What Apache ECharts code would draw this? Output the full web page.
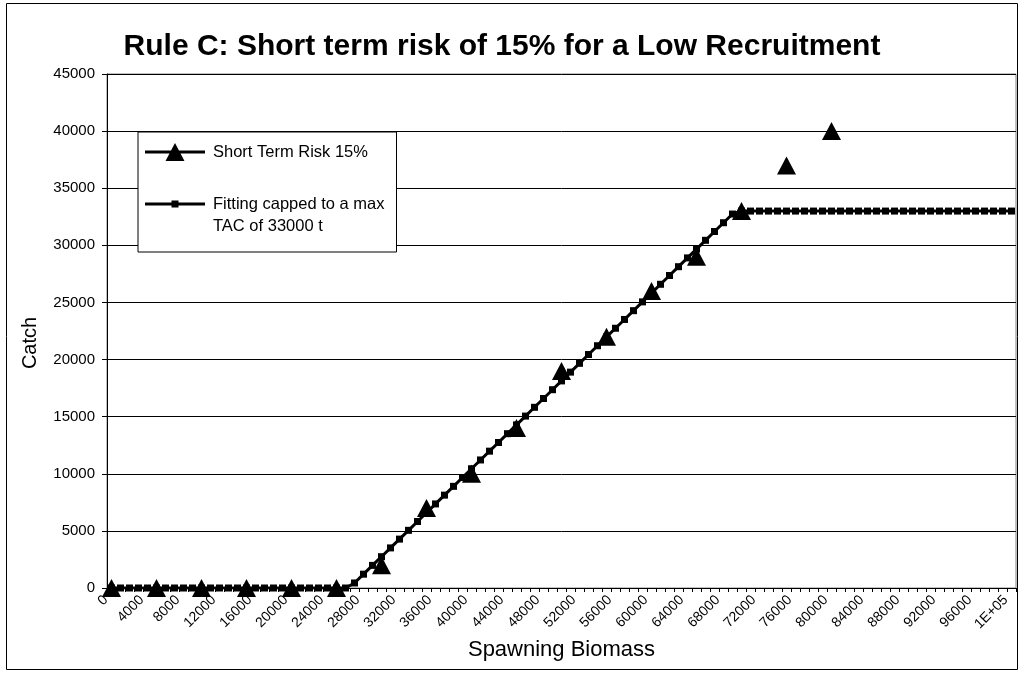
<!DOCTYPE html>
<html><head><meta charset="utf-8">
<script src="https://cdn.jsdelivr.net/npm/echarts@6/dist/echarts.min.js"></script>
<style>html,body{margin:0;padding:0;background:#fff}#c{width:1020px;height:673px}</style>
</head><body><div id="c"></div>
<script>
const categories = ['0','1000','2000','3000','4000','5000','6000','7000','8000','9000',
'10000','11000','12000','13000','14000','15000','16000','17000','18000','19000',
'20000','21000','22000','23000','24000','25000','26000','27000','28000','29000',
'30000','31000','32000','33000','34000','35000','36000','37000','38000','39000',
'40000','41000','42000','43000','44000','45000','46000','47000','48000','49000',
'50000','51000','52000','53000','54000','55000','56000','57000','58000','59000',
'60000','61000','62000','63000','64000','65000','66000','67000','68000','69000',
'70000','71000','72000','73000','74000','75000','76000','77000','78000','79000',
'80000','81000','82000','83000','84000','85000','86000','87000','88000','89000',
'90000','91000','92000','93000','94000','95000','96000','97000','98000','99000','100000'];
const xTickLabels = ['0','4000','8000','12000','16000','20000','24000','28000','32000','36000',
'40000','44000','48000','52000','56000','60000','64000','68000','72000','76000','80000',
'84000','88000','92000','96000','1E+05'];
const riskBiomass = ['0','5000','10000','15000','20000','25000','30000','35000','40000',
'45000','50000','55000','60000','65000','70000','75000','80000'];
const riskCatch = [0,0,0,0,0,0,2000,7000,10000,14000,19000,22000,26000,29000,33000,37000,40000];
const fittedCatch = [0,0,0,0,0,0,0,0,0,0,
0,0,0,0,0,0,0,0,0,0,
0,0,0,0,0,0,0,440,1210,1980,
2740,3510,4280,5050,5820,6590,7360,8130,8900,9670,
10440,11210,11980,12740,13510,14280,15050,15820,16590,17360,
18130,18900,19670,20440,21210,21980,22740,23510,24280,25050,
25820,26590,27360,28130,28900,29670,30440,31210,31980,32740,
33000,33000,33000,33000,33000,33000,33000,33000,33000,33000,
33000,33000,33000,33000,33000,33000,33000,33000,33000,33000,
33000,33000,33000,33000,33000,33000,33000,33000,33000,33000,33000];
const yTicks = [0,5000,10000,15000,20000,25000,30000,35000,40000,45000];

const seriesNames = ['Short Term Risk 15%', 'Fitting capped to a max TAC of 33000 t'];
const FONT = "'Liberation Sans', Arial, sans-serif";

const triIcon = 'path://M0,7.5L60,7.5L60,10.5L0,10.5Z M20.5,18L30,0L39.5,18Z';
const sqIcon = 'path://M0,2L60,2L60,5L0,5Z M26.5,0L33.5,0L33.5,7L26.5,7Z';

const chart = echarts.init(document.getElementById('c'), null, {renderer: 'canvas'});
chart.setOption({
  animation: false,
  backgroundColor: '#fff',
  title: {
    text: 'Rule C: Short term risk of 15% for a Low Recruitment',
    left: 497, top: 27, textAlign: 'center',
    textStyle: {fontFamily: FONT, fontSize: 30, fontWeight: 'bold', color: '#000'}
  },
  graphic: [{
    type: 'rect', shape: {x: 6.5, y: 3.5, width: 1011, height: 666},
    style: {fill: null, stroke: '#000', lineWidth: 1}, silent: true, z: -1
  }],
  legend: {
    orient: 'vertical', left: 138, top: 132,
    padding: [9, 12, 15, 7],
    itemWidth: 60, itemHeight: 18, itemGap: 8,
    borderColor: '#000', borderWidth: 1, backgroundColor: '#fff',
    textStyle: {fontFamily: FONT, fontSize: 16.5, lineHeight: 22, color: '#000', padding: [0,0,0,3]},
    formatter: function (name) {
      return name === seriesNames[1] ? '\nFitting capped to a max\nTAC of 33000 t' : name;
    },
    data: [{name: seriesNames[0], icon: triIcon}, {name: seriesNames[1], icon: sqIcon}]
  },
  grid: {left: 107, right: 4, top: 74, bottom: 85, containLabel: false, outerBoundsMode: 'none',
    show: true, borderColor: '#808080', borderWidth: 1, backgroundColor: '#fff'},
  xAxis: {
    type: 'category', data: categories, boundaryGap: true,
    name: 'Spawning Biomass', nameLocation: 'middle', nameGap: 51,
    nameTextStyle: {fontFamily: FONT, fontSize: 22, color: '#000'},
    axisLine: {lineStyle: {color: '#000', width: 1}},
    axisTick: {show: true, interval: 0, length: 4, inside: false, lineStyle: {color: '#000'}},
    axisLabel: {
      interval: 3, rotate: 45, margin: 4, color: '#000', fontFamily: FONT, fontSize: 14,
      padding: [0, 8, 0, 0], hideOverlap: false,
      formatter: function (v, i) { return xTickLabels[Math.round(i / 4)]; }
    },
    splitLine: {show: false}
  },
  yAxis: {
    type: 'value', min: yTicks[0], max: yTicks[yTicks.length - 1], interval: 5000,
    name: 'Catch', nameLocation: 'middle', nameGap: 67, nameRotate: 90,
    nameTextStyle: {fontFamily: FONT, fontSize: 20, color: '#000', padding: [0, 24, 0, 0]},
    axisLine: {show: true, lineStyle: {color: '#000', width: 1}},
    axisTick: {show: true, length: 5, inside: false, lineStyle: {color: '#000'}},
    axisLabel: {margin: 12, color: '#000', fontFamily: FONT, fontSize: 15,
      formatter: function (v) { return String(v); }},
    splitLine: {show: true, lineStyle: {color: '#000', width: 1}}
  },
  series: [
    {
      name: seriesNames[0], type: 'scatter', symbol: 'triangle', symbolSize: [19, 18],
      itemStyle: {color: '#000', opacity: 1}, z: 2,
      data: riskBiomass.map((b, i) => [b, riskCatch[i]])
    },
    {
      name: seriesNames[1], type: 'line', symbol: 'rect', symbolSize: 7, showAllSymbol: true,
      itemStyle: {color: '#000', opacity: 1}, lineStyle: {color: '#000', width: 3}, z: 3,
      data: fittedCatch
    }
  ]
});
</script></body></html>
